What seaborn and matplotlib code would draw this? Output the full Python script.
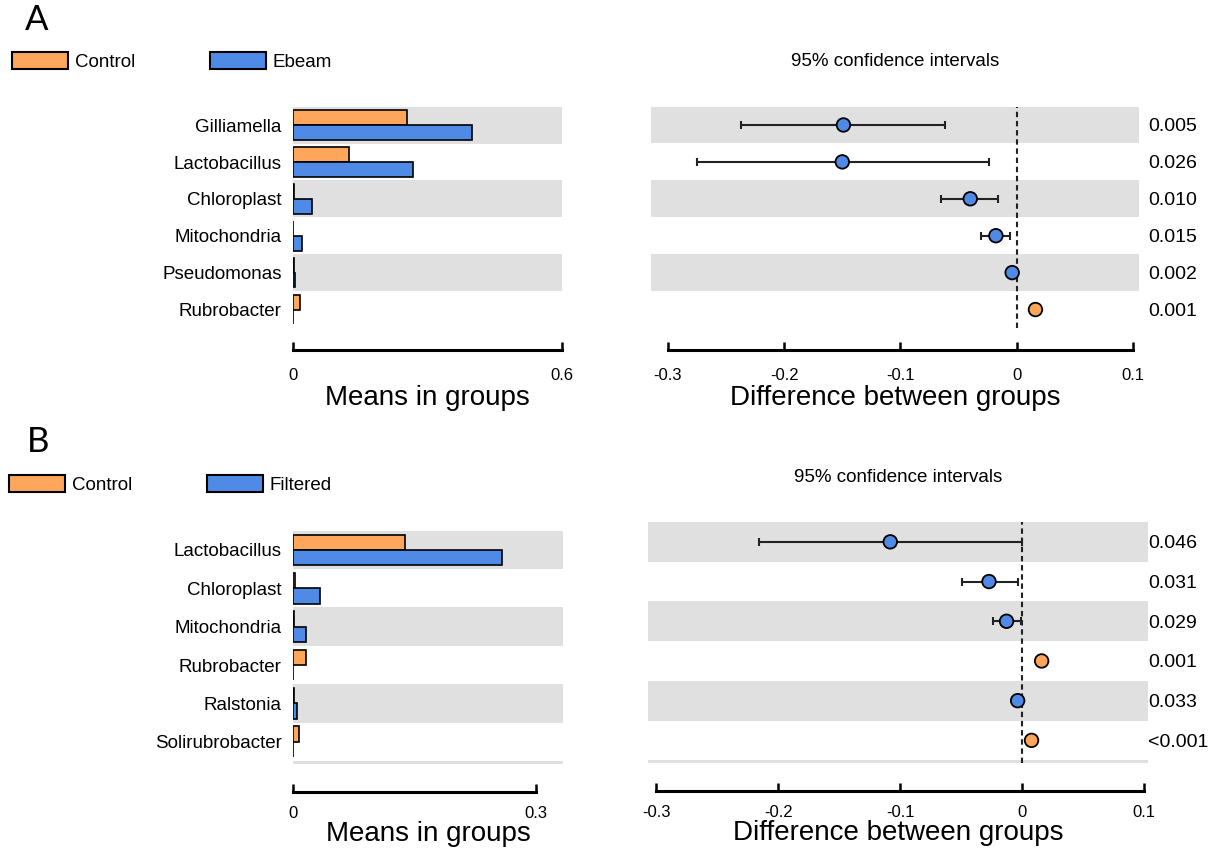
import numpy as np
import pandas as pd
import matplotlib
matplotlib.use("Agg")
import matplotlib.pyplot as plt
import matplotlib.transforms as mtransforms
from matplotlib.patches import Patch
import seaborn as sns

# ---------------- data ----------------
a_taxa = ["Gilliamella", "Lactobacillus", "Chloroplast", "Mitochondria", "Pseudomonas", "Rubrobacter"]
a_control = [0.256, 0.126, 0.002, 0.001, 0.003, 0.016]
a_ebeam = [0.400, 0.268, 0.043, 0.021, 0.005, 0.0005]
a_diff = [-0.149, -0.150, -0.040, -0.018, -0.004, 0.016]
a_ci_low = [-0.237, -0.275, -0.065, -0.031, -0.006, 0.0135]
a_ci_high = [-0.062, -0.024, -0.016, -0.006, -0.0015, 0.018]
a_pvals = ["0.005", "0.026", "0.010", "0.015", "0.002", "0.001"]
a_groups = ["Control", "Ebeam"]

b_taxa = ["Lactobacillus", "Chloroplast", "Mitochondria", "Rubrobacter", "Ralstonia", "Solirubrobacter"]
b_control = [0.139, 0.003, 0.001, 0.017, 0.001, 0.0074]
b_filtered = [0.258, 0.034, 0.016, 0.0005, 0.0053, 0.0005]
b_diff = [-0.108, -0.027, -0.0126, 0.0162, -0.0035, 0.0079]
b_ci_low = [-0.2157, -0.0495, -0.024, 0.0135, -0.005, 0.0055]
b_ci_high = [0.0003, -0.003, -0.001, 0.019, -0.002, 0.0105]
b_pvals = ["0.046", "0.031", "0.029", "0.001", "0.033", "<0.001"]
b_groups = ["Control", "Filtered"]

mean_ticks_a = [0, 0.6]
mean_ticks_b = [0, 0.3]
diff_ticks = [-0.3, -0.2, -0.1, 0, 0.1]
diff_ticklabels = ["-0.3", "-0.2", "-0.1", "0", "0.1"]

# ---------------- style ----------------
sns.set_style("white")
plt.rcParams["font.family"] = ["Liberation Sans", "DejaVu Sans"]
plt.rcParams["text.color"] = "black"
plt.rcParams["axes.labelcolor"] = "black"
plt.rcParams["xtick.color"] = "black"
plt.rcParams["ytick.color"] = "black"

ORANGE = "#FDA65C"
BLUE = "#4F8BE6"
BAND = "#E0E0E0"
W, H = 1221, 849

fig = plt.figure(figsize=(W / 100, H / 100), dpi=100)


def add_axes_px(x0, x1, ytop, ybot):
    return fig.add_axes([x0 / W, 1 - ybot / H, (x1 - x0) / W, (ybot - ytop) / H])


def style_bottom(ax, bounds, ticks, labels, outward, pad):
    for s in ("left", "top", "right"):
        ax.spines[s].set_visible(False)
    sp = ax.spines["bottom"]
    sp.set_visible(True)
    sp.set_position(("outward", outward))
    sp.set_bounds(*bounds)
    sp.set_linewidth(2.2)
    sp.set_color("black")
    ax.set_xticks(ticks)
    ax.set_xticklabels(labels)
    ax.tick_params(axis="x", direction="in", length=6, width=1.8, pad=pad,
                   labelsize=12, colors="black", bottom=True)


def bar_panel(ax, taxa, g1, g2, names, xr, xmax, ticks, ylim_bottom, n_bands,
              outward, pad, labelpad):
    for i in range(0, n_bands, 2):
        ax.axhspan(i - 0.5, i + 0.5, color=BAND, lw=0, zorder=0)
    df = pd.DataFrame({
        "taxon": list(taxa) * 2,
        "value": list(g1) + list(g2),
        "group": [names[0]] * len(taxa) + [names[1]] * len(taxa),
    })
    sns.barplot(data=df, x="value", y="taxon", hue="group", order=taxa,
                hue_order=names, palette=[ORANGE, BLUE], saturation=1,
                edgecolor="black", linewidth=1.2, width=0.8, orient="h",
                errorbar=None, legend=False, ax=ax)
    ax.set_xlim(0, xr)
    ax.set_ylim(ylim_bottom, -0.5)
    ax.set_facecolor("none")
    style_bottom(ax, (0, xmax), ticks, [str(t) for t in ticks], outward, pad)
    ax.tick_params(axis="y", length=0, pad=8, labelsize=13.5, colors="black")
    ax.set_ylabel("")
    ax.set_xlabel("Means in groups", fontsize=20, labelpad=labelpad)


def ci_panel(ax, diff, lo, hi, pvals, names, xl, ylim_bottom, n_bands, outward,
             poff, pad, labelpad):
    for i in range(0, n_bands, 2):
        ax.axhspan(i - 0.5, i + 0.5, color=BAND, lw=0, zorder=0)
    d = np.array(diff)
    y = np.arange(len(d))
    ax.axvline(0, color="#222222", ls=(0, (2.6, 1.8)), lw=1.5, zorder=2)
    ax.errorbar(d, y, xerr=[d - np.array(lo), np.array(hi) - d], fmt="none",
                ecolor="#222222", elinewidth=1.5, capsize=2.6, capthick=1.5, zorder=3)
    grp = [names[1] if v < 0 else names[0] for v in d]
    sns.scatterplot(x=d, y=y, hue=grp, hue_order=names, palette=[ORANGE, BLUE],
                    s=95, edgecolor="black", linewidth=1.3, legend=False, ax=ax, zorder=4)
    ax.set_xlim(*xl)
    ax.set_ylim(ylim_bottom, -0.5)
    ax.set_facecolor("none")
    style_bottom(ax, (-0.3, 0.1), diff_ticks, diff_ticklabels, outward, pad)
    ax.set_yticks([])
    ax.set_ylabel("")
    ax.set_xlabel("Difference between groups", fontsize=20, labelpad=labelpad)
    tr = mtransforms.blended_transform_factory(ax.transAxes, ax.transData)
    for i, p in enumerate(pvals):
        ax.text(1 + poff, i, p, transform=tr, ha="left", va="center_baseline",
                fontsize=14)


# ---------------- panel A ----------------
axA1 = add_axes_px(292.7, 561.7, 106.7, 328)
bar_panel(axA1, a_taxa, a_control, a_ebeam, a_groups, 0.6, 0.6, mean_ticks_a,
          5.5, 6, 16, 13, 1)

axA2 = add_axes_px(651, 1139, 106.5, 328)
ci_panel(axA2, a_diff, a_ci_low, a_ci_high, a_pvals, a_groups, (-0.3144, 0.105),
         5.5, 6, 16, 0.018, 13, 1)

# ---------------- panel B ----------------
axB1 = add_axes_px(292.7, 563.3, 530.7, 764)
bar_panel(axB1, b_taxa, b_control, b_filtered, b_groups, 0.3335, 0.3, mean_ticks_b,
          5.578, 7, 20, 10, 0)

axB2 = add_axes_px(648.3, 1148.3, 522, 763)
ci_panel(axB2, b_diff, b_ci_low, b_ci_high, b_pvals, b_groups, (-0.3065, 0.1037),
         5.57, 7, 20, 0.0, 10, 0)

# ---------------- titles, legends, letters ----------------
fig.text(895 / W, 1 - 62 / H, "95% confidence intervals", ha="center", va="center", fontsize=13.5)
fig.text(898 / W, 1 - 477 / H, "95% confidence intervals", ha="center", va="center", fontsize=13.5)

for (lx, ly, names) in [(12, 52, a_groups), (9, 475, b_groups)]:
    handles = [Patch(facecolor=ORANGE, edgecolor="black", lw=1.5, label=names[0]),
               Patch(facecolor=BLUE, edgecolor="black", lw=1.5, label=names[1])]
    fig.legend(handles=handles, loc="upper left", bbox_to_anchor=(lx / W, 1 - ly / H),
               ncol=2, frameon=False, handlelength=3.0, handleheight=1.0,
               handletextpad=0.35, columnspacing=4.0, borderpad=0, borderaxespad=0,
               fontsize=13.5)

fig.text(25 / W, 1 - 20 / H, "A", ha="left", va="center", fontsize=25, family=["Lato", "DejaVu Sans"])
fig.text(27 / W, 1 - 442 / H, "B", ha="left", va="center", fontsize=25, family=["Lato", "DejaVu Sans"])

fig.savefig("out.png", dpi=100)
